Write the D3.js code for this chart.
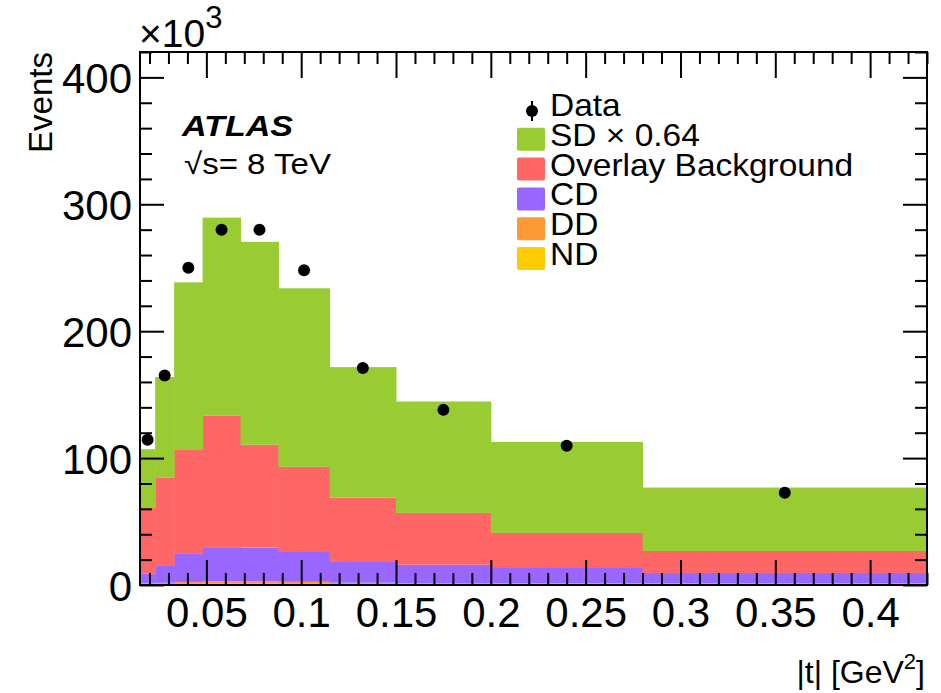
<!DOCTYPE html>
<html>
<head>
<meta charset="utf-8">
<script src="https://cdn.jsdelivr.net/npm/d3@7"></script>
<style>
  body { margin: 0; background: #fff; }
  text { font-family: "Liberation Sans", Arial, Helvetica, sans-serif; fill: #000; }
</style>
</head>
<body>
<div id="plot"></div>
<script>
// bin edges in |t| [GeV^2], values in thousands of events
const binEdges = [0.015, 0.023, 0.033, 0.048, 0.068, 0.088, 0.115, 0.15, 0.2, 0.28, 0.43];
const ndValues = [0.6, 0.7, 0.9, 1.0, 1.0, 0.9, 0.7, 0.6, 0.6, 0.6];
const ddValues = [0.8, 1.0, 1.5, 1.8, 1.8, 1.6, 1.1, 0.9, 0.8, 0.8];
const cdValues = [7.5, 13.3, 22.1, 26.4, 26.7, 23.5, 16.3, 14.5, 12.0, 8.1];
const overlayValues = [52.4, 69.4, 82.5, 104.1, 81.0, 67.1, 50.8, 40.8, 27.6, 17.3];
const sdValues = [45.7, 79.5, 131.5, 156.2, 159.9, 140.7, 102.8, 87.8, 71.8, 50.0];
const dataValues = [114.4, 165, 250, 280, 280, 248, 171, 138, 109.7, 72.6];

const seriesKeys = ["nd", "dd", "cd", "overlay", "sd"];
const seriesColors = { nd: "#ffcc00", dd: "#ff9933", cd: "#9966ff", overlay: "#ff6666", sd: "#99cc33" };
const legendLabels = ["Data", "SD \u00d7 0.64", "Overlay Background", "CD", "DD", "ND"];
const legendKeys = ["data", "sd", "overlay", "cd", "dd", "nd"];

const xMajorTicks = [0.05, 0.1, 0.15, 0.2, 0.25, 0.3, 0.35, 0.4];
const yMajorTicks = [0, 100, 200, 300, 400];

const margin = { top: 52, right: 14, bottom: 108, left: 140 };
const width = 941 - margin.left - margin.right;
const height = 693 - margin.top - margin.bottom;

const svg = d3.select("#plot")
  .append("svg")
  .attr("width", 941)
  .attr("height", 693);

const g = svg.append("g")
  .attr("transform", `translate(${margin.left},${margin.top})`);

const xScale = d3.scaleLinear().domain([0.015, 0.43]).range([0, width]);
const yScale = d3.scaleLinear().domain([0, 420]).range([height, 0]);

// build table for stacking
const table = binEdges.slice(0, -1).map((lo, i) => ({
  lo: lo,
  hi: binEdges[i + 1],
  nd: ndValues[i],
  dd: ddValues[i],
  cd: cdValues[i],
  overlay: overlayValues[i],
  sd: sdValues[i],
  data: dataValues[i]
}));

const stacked = d3.stack().keys(seriesKeys)(table);

const layers = g.selectAll(".layer")
  .data(stacked)
  .enter()
  .append("g")
  .attr("class", "layer")
  .attr("fill", d => seriesColors[d.key]);

layers.selectAll("rect")
  .data(d => d)
  .enter()
  .append("rect")
  .attr("x", d => xScale(d.data.lo))
  .attr("width", d => xScale(d.data.hi) - xScale(d.data.lo) + 0.5)
  .attr("y", d => yScale(d[1]))
  .attr("height", d => yScale(d[0]) - yScale(d[1]));

// data points
g.selectAll(".dot")
  .data(table)
  .enter()
  .append("circle")
  .attr("class", "dot")
  .attr("cx", d => xScale((d.lo + d.hi) / 2))
  .attr("cy", d => yScale(d.data))
  .attr("r", 6)
  .attr("fill", "#000");

// minor tick positions
const xMinorTicks = d3.range(2, 44).map(v => v / 100).filter(v => Math.round(v * 100) % 5 !== 0);
const yMinorTicks = d3.range(20, 421, 20).filter(v => v % 100 !== 0);

function styleAxis(sel) {
  sel.select(".domain").remove();
  sel.selectAll("line").attr("stroke", "#000").attr("stroke-width", 2);
}

// bottom axis
g.append("g")
  .attr("transform", `translate(0,${height})`)
  .call(d3.axisBottom(xScale).tickValues(xMajorTicks).tickSize(-25).tickPadding(12).tickFormat(d3.format("")))
  .call(styleAxis)
  .selectAll("text")
  .attr("font-size", 42)
  .attr("font-family", null);

g.append("g")
  .attr("transform", `translate(0,${height})`)
  .call(d3.axisBottom(xScale).tickValues(xMinorTicks).tickSize(-12).tickFormat(""))
  .call(styleAxis);

// top axis
g.append("g")
  .call(d3.axisTop(xScale).tickValues(xMajorTicks).tickSize(-26).tickFormat(""))
  .call(styleAxis);
g.append("g")
  .call(d3.axisTop(xScale).tickValues(xMinorTicks).tickSize(-12).tickFormat(""))
  .call(styleAxis);

// left axis
g.append("g")
  .call(d3.axisLeft(yScale).tickValues(yMajorTicks).tickSize(-24).tickPadding(8))
  .call(styleAxis)
  .selectAll("text")
  .attr("font-size", 42)
  .attr("font-family", null)
  .attr("dy", "0.36em");

g.append("g")
  .call(d3.axisLeft(yScale).tickValues(yMinorTicks).tickSize(-12).tickFormat(""))
  .call(styleAxis);

// right axis
g.append("g")
  .attr("transform", `translate(${width},0)`)
  .call(d3.axisRight(yScale).tickValues(yMajorTicks).tickSize(-24).tickFormat(""))
  .call(styleAxis);
g.append("g")
  .attr("transform", `translate(${width},0)`)
  .call(d3.axisRight(yScale).tickValues(yMinorTicks).tickSize(-12).tickFormat(""))
  .call(styleAxis);

// frame
g.append("rect")
  .attr("width", width)
  .attr("height", height)
  .attr("fill", "none")
  .attr("stroke", "#000")
  .attr("stroke-width", 2);

// axis titles
svg.append("text")
  .attr("transform", "translate(52,52) rotate(-90)")
  .attr("text-anchor", "end")
  .attr("font-size", 33)
  .text("Events");

const multiplier = svg.append("text")
  .attr("x", 139)
  .attr("y", 47)
  .attr("font-size", 39);
multiplier.append("tspan").text("\u00d710");
multiplier.append("tspan").attr("font-size", 31).attr("dy", -19).text("3");

const xTitle = svg.append("text")
  .attr("x", 925)
  .attr("y", 683)
  .attr("text-anchor", "end")
  .attr("font-size", 32);
xTitle.append("tspan").text("|t| [GeV");
xTitle.append("tspan").attr("font-size", 22).attr("dy", -14).text("2");
xTitle.append("tspan").attr("dy", 14).text("]");

// labels
svg.append("text")
  .attr("x", 182)
  .attr("y", 136)
  .attr("font-size", 30)
  .attr("font-weight", "bold")
  .attr("font-style", "italic")
  .attr("textLength", 111)
  .attr("lengthAdjust", "spacingAndGlyphs")
  .text("ATLAS");

svg.append("text")
  .attr("x", 184)
  .attr("y", 174)
  .attr("font-size", 30)
  .attr("textLength", 147)
  .attr("lengthAdjust", "spacingAndGlyphs")
  .text("\u221as= 8 TeV");

// legend
const legend = svg.append("g").attr("transform", "translate(517,116)");
const rows = legend.selectAll(".row")
  .data(legendKeys)
  .enter()
  .append("g")
  .attr("transform", (d, i) => `translate(0,${i * 29.8})`);

rows.filter(d => d !== "data")
  .append("rect")
  .attr("x", 0)
  .attr("y", -18)
  .attr("width", 28)
  .attr("height", 23)
  .attr("rx", 2)
  .attr("fill", d => seriesColors[d]);

const dataRow = rows.filter(d => d === "data");
dataRow.append("line")
  .attr("x1", 15).attr("x2", 15)
  .attr("y1", -15).attr("y2", 5)
  .attr("stroke", "#000")
  .attr("stroke-width", 2);
dataRow.append("circle")
  .attr("cx", 15)
  .attr("cy", -5)
  .attr("r", 6)
  .attr("fill", "#000");

rows.append("text")
  .attr("transform", "translate(33,0) scale(1.08,1)")
  .attr("font-size", 31)
  .text((d, i) => legendLabels[i]);
</script>
</body>
</html>
